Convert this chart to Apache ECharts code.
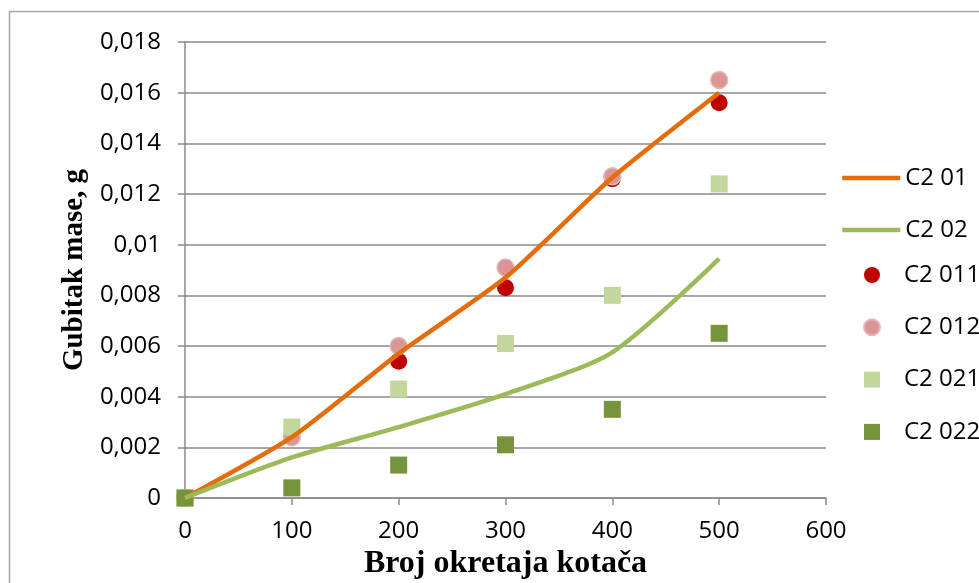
<!DOCTYPE html>
<html>
<head>
<meta charset="utf-8">
<script src="https://cdn.jsdelivr.net/npm/echarts@6/dist/echarts.min.js"></script>
<style>
html, body { margin: 0; padding: 0; background: #fff; }
#chart { width: 979px; height: 583px; }
</style>
</head>
<body>
<div id="chart"></div>
<script>
// broj okretaja (x) i gubitak mase (y, g)
const okretaji = [0, 100, 200, 300, 400, 500];
const c201 = [0, 0.0024, 0.0057, 0.0087, 0.01265, 0.0160];
const c202 = [0, 0.0016, 0.0028, 0.0041, 0.00575, 0.00945];
const c2011 = [0, 0.0024, 0.0054, 0.0083, 0.0126, 0.0156];
const c2012 = [0, 0.0024, 0.0060, 0.0091, 0.0127, 0.0165];
const c2021 = [0, 0.0028, 0.0043, 0.0061, 0.0080, 0.0124];
const c2022 = [0, 0.0004, 0.0013, 0.0021, 0.0035, 0.0065];

const pairs = (ys) => okretaji.map((x, i) => [x, ys[i]]);

const chart = echarts.init(document.getElementById("chart"));
const labelFont = "'Open Sans', sans-serif";
const gridColor = "#8a8a8a";

let option = {
	animation: false,
	graphic: [{
		type: "rect",
		left: 7,
		top: 9,
		shape: { width: 1000, height: 1000 },
		style: { fill: "none", stroke: "#a6a6a6", lineWidth: 1.5 },
		silent: true,
	}],
	grid: { left: 185, right: 153, top: 42, bottom: 85, outerBoundsMode: "none", containLabel: false },
	legend: [
		{
			orient: "vertical",
			left: 840,
			top: 166,
			padding: 0,
			itemWidth: 58,
			itemHeight: 16,
			itemGap: 28,
			itemStyle: { opacity: 0 },
			lineStyle: { width: 4.5 },
			textStyle: { fontFamily: labelFont, fontSize: 24, color: "#000", lineHeight: 20 },
			data: ["C2 01", "C2 02"],
		},
		{
			orient: "vertical",
			left: 863,
			top: 263,
			padding: 0,
			itemWidth: 16,
			itemHeight: 16,
			itemGap: 28.3,
			textStyle: { fontFamily: labelFont, fontSize: 24, color: "#000", lineHeight: 20, padding: [0, 0, 0, 19] },
			data: ["C2 011", "C2 012", "C2 021", "C2 022"],
		},
	],
	xAxis: {
		type: "value",
		min: 0,
		max: 600,
		interval: 100,
		name: "Broj okretaja kotača",
		nameLocation: "middle",
		nameGap: 50,
		nameTextStyle: { fontFamily: "'Liberation Serif', serif", fontWeight: "bold", fontSize: 32, color: "#000" },
		axisLine: { lineStyle: { color: gridColor, width: 1.5 } },
		axisTick: { show: true, length: 7, lineStyle: { color: gridColor, width: 1.5 } },
		axisLabel: { fontFamily: labelFont, fontSize: 24, color: "#000", margin: 21 },
		splitLine: { show: false },
	},
	yAxis: {
		type: "value",
		min: 0,
		max: 0.018,
		interval: 0.002,
		name: "Gubitak mase, g",
		nameLocation: "middle",
		nameGap: 96,
		nameTextStyle: { fontFamily: "'Liberation Serif', serif", fontWeight: "bold", fontSize: 29, color: "#000" },
		axisLine: { show: true, lineStyle: { color: gridColor, width: 1.5 } },
		axisTick: { show: true, length: 7, lineStyle: { color: gridColor, width: 1.5 } },
		axisLabel: {
			fontFamily: labelFont,
			fontSize: 24,
			color: "#000",
			margin: 24,
			formatter: (v) => String(parseFloat(v.toFixed(3))).replace(".", ","),
		},
		splitLine: { lineStyle: { color: gridColor, width: 1.5 } },
	},
	series: [
		{
			name: "C2 01",
			type: "line",
			data: pairs(c201),
			smooth: 0.2,
			symbol: "none",
			color: "#E46C0A",
			lineStyle: { width: 4.5, color: "#E46C0A" },
		},
		{
			name: "C2 02",
			type: "line",
			data: pairs(c202),
			smooth: 0.25,
			symbol: "none",
			color: "#9BBB59",
			lineStyle: { width: 4.5, color: "#9BBB59" },
		},
		{
			name: "C2 011",
			type: "scatter",
			data: pairs(c2011),
			symbol: "circle",
			symbolSize: 17,
			itemStyle: { color: "#C00000", opacity: 1 },
		},
		{
			name: "C2 012",
			type: "scatter",
			data: pairs(c2012),
			symbol: "circle",
			symbolSize: 17,
			itemStyle: { color: "#D99694", borderColor: "#E6B9B8", borderWidth: 1.5, opacity: 1 },
		},
		{
			name: "C2 021",
			type: "scatter",
			data: pairs(c2021),
			symbol: "rect",
			symbolSize: 17,
			itemStyle: { color: "#C3D69B", opacity: 1 },
		},
		{
			name: "C2 022",
			type: "scatter",
			data: pairs(c2022),
			symbol: "rect",
			symbolSize: 17,
			itemStyle: { color: "#77933C", opacity: 1 },
		},
	],
};
chart.setOption(option, true);
window.addEventListener("resize", () => {
	chart.resize();
});
</script>
</body>
</html>
